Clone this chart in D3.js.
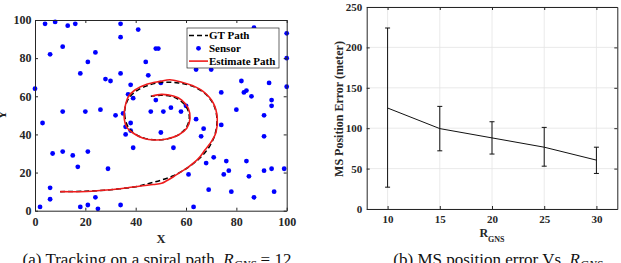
<!DOCTYPE html>
<html>
<head>
<meta charset="utf-8">
<script src="https://cdnjs.cloudflare.com/ajax/libs/d3/7.8.5/d3.min.js"></script>
<style>
  body { margin: 0; background: #fff; }
  svg { display: block; font-family: "Liberation Serif", "DejaVu Serif", serif; }
</style>
</head>
<body>
<div id="chart"></div>
<script>
// ---- left panel: sensors and spiral paths ----
const sensorX = [4, 8, 13, 16, 34, 34, 41, 11, 6, 24, 21, 48, 49, 44, 18, 34, 45, 28, 30, 0,
	38, 37, 39, 87, 100, 100, 64, 70, 82, 93, 100, 74, 83, 84, 86, 94, 94, 80, 91, 50,
	11, 20, 26, 32, 35, 3, 36, 38, 36, 38, 39, 48, 46, 51, 54, 58, 60, 64, 67, 66,
	74, 91, 50, 55,
	7, 11, 15, 21, 17, 29, 6, 6, 2, 18, 21, 24, 25, 34, 71, 68, 76, 84, 61, 75,
	77, 85, 91, 94, 99, 69, 78, 87, 95, 63]
const sensorY = [98, 99, 97, 98, 98, 91, 95, 86, 82, 83, 78, 85, 85, 78, 72, 72, 71, 69, 68, 64,
	66, 61, 59, 96, 93, 80, 74, 74, 68, 67, 65, 62, 62, 63, 60, 58, 55, 53, 50, 67,
	52, 52, 53, 50, 51, 46, 44, 46, 40, 42, 33, 58, 52, 52, 54, 52, 55, 48, 43, 39,
	45, 39, 41, 33,
	30, 31, 29, 31, 23, 22, 12, 6, 2, 2, 3, 7, 1, 3, 28, 25, 26, 26, 19, 19,
	21, 18, 21, 22, 22, 11, 10, 7, 10, 2]

const gtX = [10, 20, 30, 40, 45, 50, 55, 60, 65, 69, 71.5, 72.3, 71, 67.5, 62.5, 57, 51, 45.5, 40.5, 37.3,
	35.8, 35.8, 37.2, 40, 44, 48.5, 53, 57, 60, 61.3, 60.5, 58, 54.5, 50, 46]
const gtY = [10, 10.2, 11, 12.6, 14.2, 16, 18.3, 22, 27, 33, 40, 48, 55.5, 61.5, 65.3, 67, 67.3, 66, 63, 59,
	54, 48.5, 43.5, 40, 37.8, 37.2, 37.8, 39.8, 43.5, 48.5, 53.5, 57.5, 59.8, 60.5, 60]

const estX = [10, 20.5, 29.8, 39, 47, 50.3, 52.3, 55, 57, 60.5, 64.9, 67.5, 70.2, 71.9, 72.4, 70.9, 66.9, 62.5, 58, 53.6,
	49.7, 44.4, 39.7, 37.1, 35.8, 35.4, 36.4, 39.1, 43, 47.7, 52.3, 57, 60.3, 61.6, 60.9, 58.3, 55, 50.3, 46.4]
const estY = [10, 10.1, 11, 12.4, 13.7, 14.4, 15.7, 17.8, 19.6, 22.5, 27.3, 31.8, 36.5, 41, 49, 56.3, 62.4, 65.6, 67.5, 68.7,
	67.8, 66.3, 63.3, 59.8, 54.5, 49.3, 44, 40.6, 38, 37.1, 37.6, 39.7, 43.2, 48.4, 53.7, 58, 60.1, 61, 60.1]

const fieldTicks = [0, 20, 40, 60, 80, 100]
const legendLabels = ["GT Path", "Sensor", "Estimate Path"]

// ---- right panel: error vs R_GNS ----
const rgns = [10, 15, 20, 25, 30]
const meanErr = [125, 99.5, 88, 76.5, 60.5]
const errHigh = [224, 127, 108, 101, 76.5]
const errLow = [27, 72, 68, 53, 44]
const errTicks = [0, 50, 100, 150, 200, 250]

const axisColor = "#262626"

const makeContainer = (params) => {
	return d3.select(params.selector)
		.append("svg")
		.attr("width", params.width)
		.attr("height", params.height)
}

// inward ticks on all four sides plus the box
const addBox = (svg, xScale, yScale, xTicks, yTicks, opt) => {
	const [x0, x1] = xScale.range()
	const [y1, y0] = yScale.range()
	const g = svg.append("g")

	g.append("g")
		.attr("transform", `translate(0,${y1})`)
		.call(d3.axisBottom(xScale).tickValues(xTicks).tickSizeInner(-3).tickSizeOuter(0).tickPadding(opt.xPad))
	g.append("g")
		.attr("transform", `translate(${x0},0)`)
		.call(d3.axisLeft(yScale).tickValues(yTicks).tickSizeInner(-3).tickSizeOuter(0).tickPadding(opt.yPad))
	g.append("g")
		.attr("transform", `translate(0,${y0})`)
		.call(d3.axisTop(xScale).tickValues(xTicks).tickSizeInner(-3).tickSizeOuter(0).tickFormat(""))
	g.append("g")
		.attr("transform", `translate(${x1},0)`)
		.call(d3.axisRight(yScale).tickValues(yTicks).tickSizeInner(-3).tickSizeOuter(0).tickFormat(""))

	g.selectAll(".domain").attr("stroke", axisColor)
	g.selectAll(".tick line").attr("stroke", axisColor)
	g.selectAll(".tick text")
		.attr("fill", axisColor)
		.attr("font-family", "Liberation Serif")
		.attr("font-weight", "bold")
		.attr("font-size", opt.fontSize)
	return g
}

const drawField = (svg, params) => {
	const xScale = d3.scaleLinear().domain([0, 100]).range([35, 286.7])
	const yScale = d3.scaleLinear().domain([0, 100]).range([210.7, 20])

	const line = d3.line()
		.x(d => xScale(d[0]))
		.y(d => yScale(d[1]))
		.curve(d3.curveCatmullRom.alpha(0.5))

	const sensors = d3.zip(sensorX, sensorY)
	svg.append("g")
		.selectAll("circle")
		.data(sensors)
		.join("circle")
		.attr("cx", d => xScale(d[0]))
		.attr("cy", d => yScale(d[1]))
		.attr("r", 2.4)
		.attr("fill", "#0000ff")

	svg.append("path")
		.attr("d", line(d3.zip(gtX, gtY)))
		.attr("fill", "none")
		.attr("stroke", "#000")
		.attr("stroke-width", 1.5)
		.attr("stroke-dasharray", "5,3")

	svg.append("path")
		.attr("d", line(d3.zip(estX, estY)))
		.attr("fill", "none")
		.attr("stroke", "#ee1c1c")
		.attr("stroke-width", 1.6)

	addBox(svg, xScale, yScale, fieldTicks, fieldTicks, { xPad: 7, yPad: 3.5, fontSize: 12 })

	svg.append("text")
		.attr("x", 161).attr("y", 243)
		.attr("text-anchor", "middle")
		.attr("font-weight", "bold").attr("font-size", 12.5)
		.attr("fill", axisColor)
		.text("X")
	svg.append("text")
		.attr("transform", "translate(6,115) rotate(-90)")
		.attr("text-anchor", "middle")
		.attr("font-weight", "bold").attr("font-size", 12.5)
		.attr("fill", axisColor)
		.text("Y")

	// legend
	const lg = svg.append("g")
	lg.append("rect")
		.attr("x", 187).attr("y", 28)
		.attr("width", 92).attr("height", 40)
		.attr("fill", "#fff")
		.attr("stroke", axisColor).attr("stroke-width", 0.7)
	const rows = lg.selectAll("g")
		.data(legendLabels)
		.join("g")
		.attr("transform", (d, i) => `translate(0,${35.5 + i * 12.8})`)
	rows.append("text")
		.attr("x", 209).attr("dy", "0.35em")
		.attr("font-weight", "bold").attr("font-size", 11)
		.attr("fill", "#000")
		.text(d => d)
	rows.filter((d, i) => i == 0).append("line")
		.attr("x1", 189).attr("x2", 208)
		.attr("stroke", "#000").attr("stroke-width", 1.5)
		.attr("stroke-dasharray", "5,3")
	rows.filter((d, i) => i == 1).append("circle")
		.attr("cx", 198.5).attr("r", 2.4)
		.attr("fill", "#0000ff")
	rows.filter((d, i) => i == 2).append("line")
		.attr("x1", 189).attr("x2", 208)
		.attr("stroke", "#ee1c1c").attr("stroke-width", 1.6)
}

const drawError = (svg, params) => {
	const xScale = d3.scaleLinear().domain([8, 32]).range([366.7, 617.3])
	const yScale = d3.scaleLinear().domain([0, 250]).range([209, 7])

	// grid
	const grid = svg.append("g").attr("stroke", "#e4e4e4").attr("stroke-width", 0.8)
	grid.selectAll(".vx")
		.data(rgns)
		.join("line")
		.attr("x1", d => xScale(d)).attr("x2", d => xScale(d))
		.attr("y1", 7).attr("y2", 209)
	grid.selectAll(".hy")
		.data(errTicks)
		.join("line")
		.attr("y1", d => yScale(d)).attr("y2", d => yScale(d))
		.attr("x1", 366.7).attr("x2", 617.3)

	const line = d3.line()
		.x((d, i) => xScale(rgns[i]))
		.y(d => yScale(d))
	svg.append("path")
		.attr("d", line(meanErr))
		.attr("fill", "none")
		.attr("stroke", "#111")
		.attr("stroke-width", 1)

	const bars = svg.append("g")
		.attr("stroke", "#111").attr("stroke-width", 1)
		.selectAll("g")
		.data(rgns)
		.join("g")
	bars.append("line")
		.attr("x1", d => xScale(d)).attr("x2", d => xScale(d))
		.attr("y1", (d, i) => yScale(errLow[i]))
		.attr("y2", (d, i) => yScale(errHigh[i]))
	bars.append("line")
		.attr("x1", d => xScale(d) - 2.5).attr("x2", d => xScale(d) + 2.5)
		.attr("y1", (d, i) => yScale(errLow[i])).attr("y2", (d, i) => yScale(errLow[i]))
	bars.append("line")
		.attr("x1", d => xScale(d) - 2.5).attr("x2", d => xScale(d) + 2.5)
		.attr("y1", (d, i) => yScale(errHigh[i])).attr("y2", (d, i) => yScale(errHigh[i]))

	addBox(svg, xScale, yScale, rgns, errTicks, { xPad: 6, yPad: 4.5, fontSize: 11 })

	const xl = svg.append("text")
		.attr("x", 487).attr("y", 237.3)
		.attr("font-weight", "bold").attr("font-size", 12)
		.attr("fill", axisColor)
	xl.append("tspan").text("R")
	xl.append("tspan").attr("font-size", 8).attr("dy", 4.4).text("GNS")
	const w = xl.node().getComputedTextLength()
	xl.attr("x", 492 - w / 2)

	svg.append("text")
		.attr("transform", "translate(342.5,109) rotate(-90)")
		.attr("text-anchor", "middle")
		.attr("font-weight", "bold").attr("font-size", 12)
		.attr("fill", axisColor)
		.text("MS Position Error (meter)")
}

const addCaptions = (svg) => {
	const a = svg.append("text")
		.attr("x", 157).attr("y", 265)
		.attr("text-anchor", "middle")
		.attr("font-size", 17).attr("fill", "#111")
	a.append("tspan").text("(a) Tracking on a spiral path, ")
	a.append("tspan").attr("font-style", "italic").text("R")
	a.append("tspan").attr("font-style", "italic").attr("font-size", 12).attr("dy", 3.5).text("GNS")
	a.append("tspan").attr("dy", -3.5).text(" = 12")

	const b = svg.append("text")
		.attr("x", 498).attr("y", 265)
		.attr("text-anchor", "middle")
		.attr("font-size", 17).attr("fill", "#111")
	b.append("tspan").text("(b) MS position error Vs. ")
	b.append("tspan").attr("font-style", "italic").text("R")
	b.append("tspan").attr("font-style", "italic").attr("font-size", 12).attr("dy", 3.5).text("GNS")
}

const main = (params) => {
	const svg = makeContainer(params)
	drawField(svg, params)
	drawError(svg, params)
	addCaptions(svg)
}

main({ selector: "#chart", width: 621, height: 263 })
</script>
</body>
</html>
